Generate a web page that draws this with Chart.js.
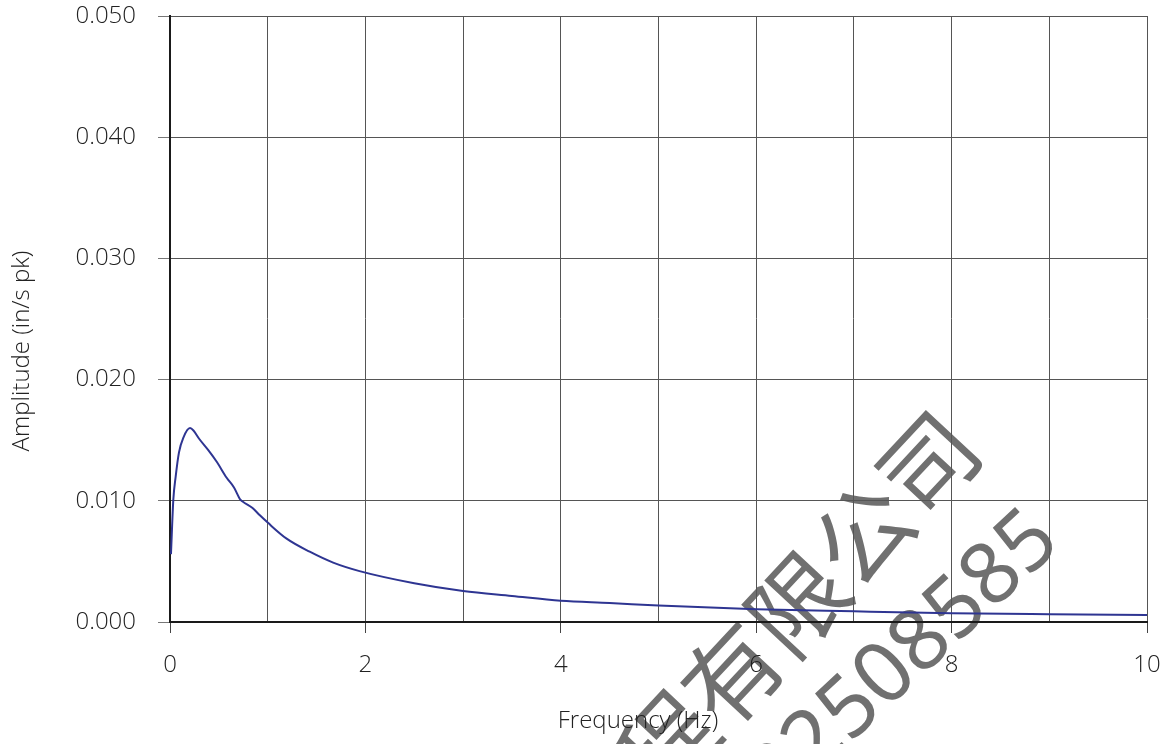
<!DOCTYPE html>
<html>
<head>
<meta charset="utf-8">
<script src="https://cdn.jsdelivr.net/npm/chart.js@4.4.1/dist/chart.umd.min.js"></script>
<style>
html,body{margin:0;padding:0;background:#fff;}
#wrap{width:1165px;height:744px;position:relative;}
</style>
</head>
<body>
<div id="wrap"><canvas id="c" width="1165" height="744"></canvas></div>
<script>
// Data
const frequencyHz = [0.01,0.034,0.058,0.092,0.136,0.205,0.24,0.30,0.39,0.48,0.58,0.655,0.72,0.75,0.845,0.92,1.0,1.19,1.43,1.67,1.94,2.5,3.0,3.5,4.0,4.5,5.0,6.0,7.0,8.0,9.0,10.0];
const amplitude   = [0.0056,0.0101,0.0120,0.0140,0.0152,0.0160,0.0158,0.0151,0.0142,0.0132,0.0119,0.0111,0.0101,0.0099,0.0094,0.0088,0.0082,0.0069,0.0058,0.0049,0.0042,0.0032,0.00256,0.00215,0.00175,0.00157,0.00136,0.00105,0.00088,0.00073,0.00064,0.00057];
const xTicksLabeled = [0,2,4,6,8,10];
const yTickValues = [0,0.01,0.02,0.03,0.04,0.05];
const xTitle = 'Frequency (Hz)';
const yTitle = 'Amplitude (in/s pk)';
const watermarkLine1 = '工程有限公司';
const watermarkLine2 = '22508585';

const points = frequencyHz.map((f,i)=>({x:f,y:amplitude[i]}));
const FONT = "'Open Sans', 'Noto Sans', sans-serif";

const overlay = {
  id:'overlay',
  beforeDraw(chart){
    const ctx = chart.ctx;
    ctx.save();
    // watermark (beneath the chart)
    ctx.fillStyle = 'rgba(100,100,100,0.92)';
    ctx.font = "400 96px 'Noto Sans CJK SC', sans-serif";
    ctx.textAlign = 'right';
    ctx.textBaseline = 'middle';
    ctx.save();
    ctx.translate(961, 428);
    ctx.rotate(-47 * Math.PI/180);
    ctx.fillText(watermarkLine1, 0, 0);
    ctx.restore();
    ctx.font = "400 85px 'Noto Sans', 'DejaVu Sans', sans-serif";
    ctx.textBaseline = 'alphabetic';
    ctx.save();
    ctx.translate(1063, 545);
    ctx.rotate(-43 * Math.PI/180);
    ctx.fillText(watermarkLine2, 0, 0);
    ctx.restore();
    ctx.restore();
  },
  afterDraw(chart){
    const ctx = chart.ctx;
    ctx.save();
    ctx.fillStyle = '#222';
    ctx.font = "300 24px " + FONT;
    ctx.textAlign = 'center';
    ctx.textBaseline = 'middle';
    ctx.fillText(xTitle, 638, 721);
    ctx.translate(22, 351);
    ctx.rotate(-Math.PI/2);
    ctx.fillText(yTitle, 0, 0);
    ctx.restore();
  }
};

new Chart(document.getElementById('c'), {
  type:'line',
  data:{datasets:[{
    data:points,
    borderColor:'#2e3592',
    borderWidth:2,
    pointRadius:0,
    fill:false,
    cubicInterpolationMode:'monotone'
  }]},
  options:{
    responsive:false,
    animation:false,
    devicePixelRatio:1,
    layout:{padding:{top:16,right:18,left:0,bottom:0}},
    plugins:{legend:{display:false},tooltip:{enabled:false},title:{display:false}},
    scales:{
      x:{
        type:'linear',min:0,max:10,
        afterFit(s){ s.height = 122; s.paddingLeft = 0; s.paddingRight = 0; },
        border:{display:true,color:'#1a1a1a',width:2},
        grid:{
          color:'#555',lineWidth:1,drawTicks:true,tickLength:11,
          tickColor:(c)=> (c.tick && xTicksLabeled.includes(c.tick.value)) ? '#444' : 'rgba(0,0,0,0)'
        },
        ticks:{
          stepSize:1,autoSkip:false,maxRotation:0,padding:18,color:'#222',
          font:{family:FONT,size:24,weight:300},
          callback:(v)=> xTicksLabeled.includes(v) ? String(v) : ''
        }
      },
      y:{
        type:'linear',min:0,max:0.05,
        afterFit(s){ s.width = 170; s.paddingTop = 0; s.paddingBottom = 0; },
        afterBuildTicks(s){ s.ticks = yTickValues.map(v=>({value:v})); },
        border:{display:true,color:'#1a1a1a',width:2},
        grid:{color:'#555',lineWidth:1,tickLength:12,tickColor:'#777'},
        ticks:{
          padding:22,color:'#222',
          font:{family:FONT,size:24,weight:300},
          callback:(v)=> Number(v).toFixed(3)
        }
      }
    }
  },
  plugins:[overlay]
});
</script>
</body>
</html>
